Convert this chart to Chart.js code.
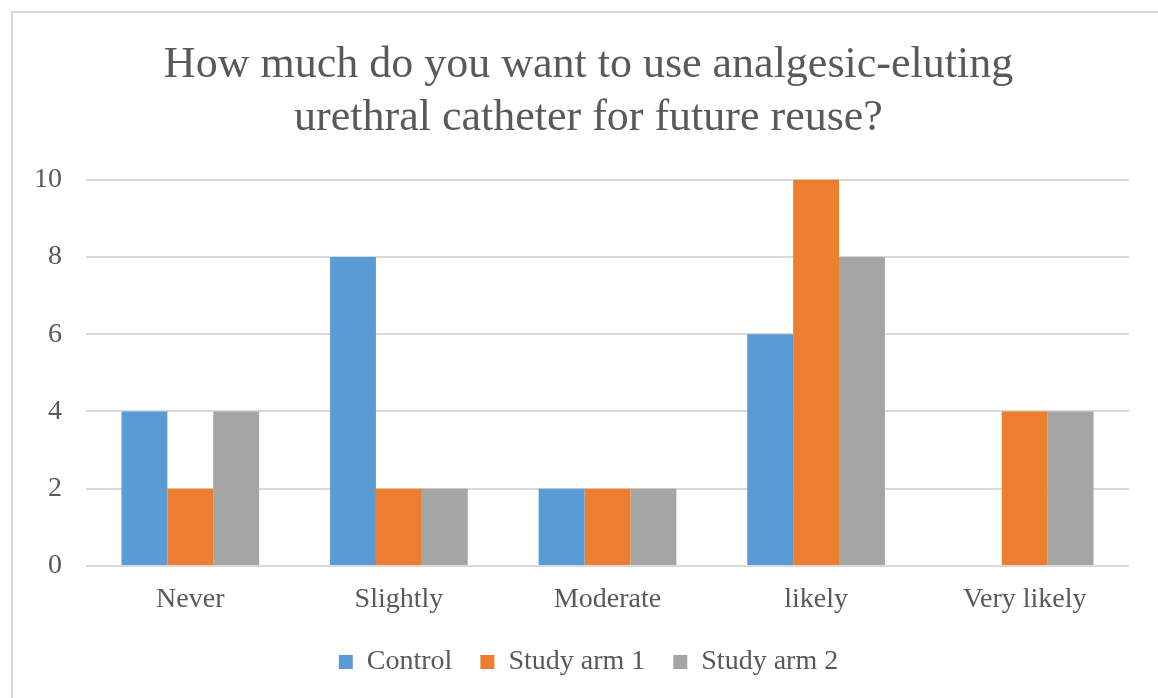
<!DOCTYPE html>
<html>
<head>
<meta charset="utf-8">
<script src="https://cdn.jsdelivr.net/npm/chart.js@4"></script>
<style>
  html, body { margin: 0; padding: 0; background: #fff; }
  #frame {
    position: absolute; left: 11px; top: 11px; width: 1160px; height: 700px;
    border-top: 2px solid #d9d9d9; border-left: 2px solid #d9d9d9;
  }
  #wrap { position: absolute; left: 0; top: 0; width: 1158px; height: 698px; }
</style>
</head>
<body>
<div id="frame"></div>
<div id="wrap"><canvas id="chart"></canvas></div>
<script>
// Data
const categories = ["Never", "Slightly", "Moderate", "likely", "Very likely"];
const control = [4, 8, 2, 6, 0];
const studyArm1 = [2, 2, 2, 10, 4];
const studyArm2 = [4, 2, 2, 8, 4];
const yTicks = [0, 2, 4, 6, 8, 10];

const serif = "'Liberation Serif', 'Times New Roman', serif";
const textColor = "#595959";

// title and legend are centred a bit right of the canvas middle in the original
const shiftBoxes = {
  id: "shiftBoxes",
  afterLayout(chart) {
    chart.titleBlock.left += 48;
    chart.legend.left += 48;
  },
};

new Chart(document.getElementById("chart"), {
  type: "bar",
  data: {
    labels: categories,
    datasets: [
      { label: "Control", data: control, backgroundColor: "#5b9bd5" },
      { label: "Study arm 1", data: studyArm1, backgroundColor: "#ed7d31" },
      { label: "Study arm 2", data: studyArm2, backgroundColor: "#a5a5a5" },
    ],
  },
  options: {
    responsive: true,
    maintainAspectRatio: false,
    animation: false,
    layout: { padding: { top: 0, left: 0, right: 29, bottom: 12 } },
    datasets: { bar: { categoryPercentage: 0.66, barPercentage: 1 } },
    plugins: {
      title: {
        display: true,
        text: [
          "How much do you want to use analgesic-eluting",
          "urethral catheter for future reuse?",
        ],
        color: textColor,
        font: { family: serif, size: 44, weight: "normal", lineHeight: 1.2 },
        padding: { top: 39, bottom: 35 },
      },
      legend: {
        position: "bottom",
        labels: {
          color: textColor,
          font: { family: serif, size: 28 },
          boxWidth: 14,
          boxHeight: 14,
          padding: 28,
        },
      },
      tooltip: { enabled: false },
    },
    scales: {
      x: {
        grid: { display: false, drawTicks: false },
        border: { display: false },
        ticks: { color: textColor, font: { family: serif, size: 28 }, padding: 17 },
        afterFit: (scale) => { scale.height = 54; },
      },
      y: {
        min: 0,
        max: 10,
        afterBuildTicks: (scale) => { scale.ticks = yTicks.map((v) => ({ value: v })); },
        grid: { color: "#d9d9d9", lineWidth: 2, drawTicks: false },
        border: { display: false },
        ticks: { color: textColor, font: { family: serif, size: 28 }, padding: 24 },
        afterFit: (scale) => { scale.width = 86; },
      },
    },
  },
  plugins: [shiftBoxes],
});
</script>
</body>
</html>
